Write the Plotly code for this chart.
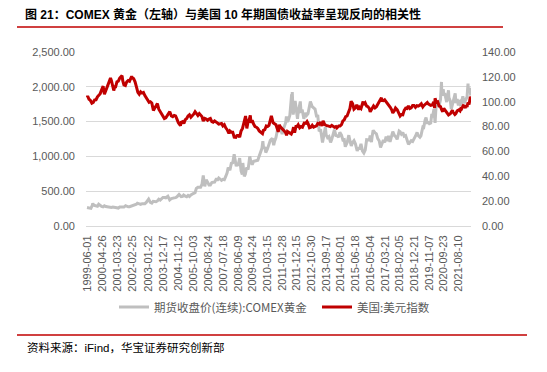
import plotly.graph_objects as go

# ---------------- data ----------------
tick_labels = ["1999-06-01", "2000-04-26", "2001-03-23", "2002-02-25", "2003-01-22",
               "2003-12-17", "2004-11-12", "2005-10-03", "2006-08-24", "2007-07-18",
               "2008-06-09", "2009-04-24", "2010-03-15", "2011-01-28", "2011-12-15",
               "2012-10-30", "2013-09-17", "2014-08-01", "2015-06-18", "2016-05-04",
               "2017-03-21", "2018-02-05", "2018-12-21", "2019-11-07", "2020-09-23",
               "2021-08-10"]

gold_dates = [
    "1999-06-01", "1999-07-15", "1999-08-25", "1999-09-27", "1999-10-05", "1999-10-25", "1999-11-15", "1999-12-15",
    "2000-01-15", "2000-02-10", "2000-03-15", "2000-04-15", "2000-05-15", "2000-06-15", "2000-07-15", "2000-08-15",
    "2000-09-15", "2000-10-15", "2000-11-15", "2000-12-15", "2001-01-15", "2001-02-15", "2001-03-15", "2001-04-15",
    "2001-05-15", "2001-06-15", "2001-07-15", "2001-08-15", "2001-09-20", "2001-10-15", "2001-11-15", "2001-12-15",
    "2002-01-15", "2002-02-15", "2002-03-15", "2002-04-15", "2002-05-15", "2002-06-05", "2002-07-15", "2002-08-15",
    "2002-09-15", "2002-10-15", "2002-11-15", "2002-12-15", "2003-02-05", "2003-03-15", "2003-04-15", "2003-05-15",
    "2003-06-15", "2003-07-15", "2003-08-15", "2003-09-15", "2003-10-15", "2003-11-15", "2003-12-15", "2004-01-15",
    "2004-02-15", "2004-03-31", "2004-05-10", "2004-06-15", "2004-07-15", "2004-08-15", "2004-09-15", "2004-10-15",
    "2004-11-30", "2004-12-15", "2005-01-15", "2005-02-15", "2005-03-10", "2005-04-15", "2005-05-15", "2005-06-15",
    "2005-07-15", "2005-08-15", "2005-09-15", "2005-10-15", "2005-11-15", "2005-12-12", "2006-01-15", "2006-02-15",
    "2006-03-15", "2006-04-15", "2006-05-12", "2006-06-14", "2006-07-15", "2006-08-15", "2006-09-15", "2006-10-15",
    "2006-11-15", "2006-12-15", "2007-01-15", "2007-02-26", "2007-03-15", "2007-04-15", "2007-05-15", "2007-06-15",
    "2007-07-15", "2007-08-15", "2007-09-15", "2007-10-15", "2007-11-08", "2007-12-15", "2008-01-15", "2008-02-15",
    "2008-03-17", "2008-04-15", "2008-05-01", "2008-05-15", "2008-06-15", "2008-07-15", "2008-08-15", "2008-09-10",
    "2008-09-22", "2008-10-24", "2008-11-15", "2008-12-15", "2009-01-15", "2009-02-20", "2009-03-15", "2009-04-15",
    "2009-05-15", "2009-06-15", "2009-07-15", "2009-08-15", "2009-09-15", "2009-10-15", "2009-11-15", "2009-12-03",
    "2009-12-20", "2010-01-15", "2010-02-05", "2010-03-15", "2010-04-15", "2010-05-15", "2010-06-28", "2010-07-28",
    "2010-08-15", "2010-09-15", "2010-10-15", "2010-11-10", "2010-12-07", "2011-01-28", "2011-02-15", "2011-03-15",
    "2011-04-15", "2011-05-01", "2011-05-15", "2011-06-15", "2011-07-15", "2011-08-23", "2011-08-26", "2011-09-06",
    "2011-09-26", "2011-10-15", "2011-11-08", "2011-12-29", "2012-01-15", "2012-02-28", "2012-03-15", "2012-04-15",
    "2012-05-16", "2012-06-15", "2012-07-15", "2012-08-15", "2012-09-15", "2012-10-05", "2012-11-15", "2012-12-15",
    "2013-01-15", "2013-02-20", "2013-03-15", "2013-04-15", "2013-05-15", "2013-06-27", "2013-07-15", "2013-08-28",
    "2013-09-15", "2013-10-15", "2013-11-15", "2013-12-20", "2014-01-15", "2014-02-15", "2014-03-14", "2014-04-15",
    "2014-05-15", "2014-06-15", "2014-07-10", "2014-08-15", "2014-09-15", "2014-10-15", "2014-11-06", "2014-12-15",
    "2015-01-22", "2015-02-15", "2015-03-17", "2015-04-15", "2015-05-15", "2015-06-15", "2015-07-24", "2015-08-15",
    "2015-09-15", "2015-10-15", "2015-11-15", "2015-12-17", "2016-01-15", "2016-02-15", "2016-03-15", "2016-04-15",
    "2016-05-02", "2016-05-30", "2016-06-15", "2016-07-06", "2016-08-15", "2016-09-15", "2016-10-15", "2016-11-15",
    "2016-12-15", "2017-01-15", "2017-02-15", "2017-03-15", "2017-04-15", "2017-05-09", "2017-06-06", "2017-07-10",
    "2017-08-15", "2017-09-08", "2017-10-15", "2017-11-15", "2017-12-12", "2018-01-25", "2018-02-15", "2018-03-15",
    "2018-04-15", "2018-05-15", "2018-06-15", "2018-07-15", "2018-08-16", "2018-09-15", "2018-10-15", "2018-11-15",
    "2018-12-15", "2019-01-15", "2019-02-20", "2019-03-15", "2019-04-23", "2019-05-15", "2019-06-25", "2019-07-15",
    "2019-08-15", "2019-09-04", "2019-10-01", "2019-10-15", "2019-11-15", "2019-12-15", "2020-01-08", "2020-01-20",
    "2020-02-24", "2020-03-19", "2020-04-14", "2020-05-15", "2020-06-15", "2020-07-15", "2020-08-06", "2020-08-12",
    "2020-09-15", "2020-09-24", "2020-10-15", "2020-11-27", "2020-12-15", "2021-01-06", "2021-01-15", "2021-02-15",
    "2021-03-08", "2021-04-15", "2021-05-15", "2021-06-01", "2021-06-18", "2021-07-15", "2021-08-09", "2021-08-20",
    "2021-09-15", "2021-09-29", "2021-10-15", "2021-11-15", "2021-12-15", "2022-01-15", "2022-02-15", "2022-03-08",
    "2022-03-15", "2022-04-18", "2022-05-05"]

gold_values = [
    265, 255, 253, 300, 326, 298, 292, 285,
    284, 312, 287, 280, 274, 290, 280, 276,
    272, 268, 267, 272, 266, 263, 260, 258,
    272, 270, 266, 272, 292, 281, 276, 277,
    284, 296, 293, 303, 312, 328, 315, 310,
    320, 315, 320, 338, 385, 338, 328, 355,
    355, 348, 360, 385, 373, 392, 410, 410,
    405, 427, 375, 393, 402, 404, 407, 420,
    453, 440, 422, 425, 445, 428, 420, 440,
    425, 445, 465, 470, 480, 540, 555, 555,
    555, 600, 725, 570, 665, 630, 590, 590,
    625, 628, 630, 685, 655, 690, 668, 655,
    670, 665, 712, 765, 840, 800, 900, 910,
    1030, 930, 860, 880, 880, 975, 790, 740,
    905, 715, 745, 840, 810, 1000, 925, 880,
    930, 935, 935, 945, 1005, 1055, 1120, 1220,
    1110, 1135, 1055, 1110, 1160, 1230, 1260, 1160,
    1215, 1270, 1370, 1420, 1425, 1320, 1375, 1420,
    1485, 1575, 1495, 1525, 1590, 1890, 1770, 1923,
    1600, 1680, 1795, 1540, 1640, 1790, 1645, 1650,
    1540, 1625, 1590, 1615, 1770, 1790, 1715, 1695,
    1680, 1565, 1595, 1360, 1390, 1200, 1285, 1420,
    1310, 1270, 1285, 1200, 1245, 1320, 1385, 1300,
    1295, 1275, 1345, 1305, 1235, 1240, 1140, 1195,
    1305, 1225, 1150, 1200, 1225, 1180, 1080, 1115,
    1115, 1180, 1080, 1050, 1090, 1240, 1235, 1235,
    1300, 1205, 1290, 1375, 1340, 1325, 1255, 1225,
    1130, 1195, 1235, 1200, 1285, 1220, 1295, 1210,
    1280, 1355, 1300, 1280, 1245, 1365, 1355, 1320,
    1345, 1290, 1300, 1240, 1175, 1200, 1225, 1215,
    1245, 1290, 1345, 1300, 1275, 1295, 1420, 1415,
    1525, 1560, 1470, 1495, 1470, 1480, 1610, 1560,
    1680, 1480, 1770, 1755, 1730, 1815, 2070, 1920,
    1965, 1870, 1910, 1780, 1855, 1950, 1845, 1795,
    1680, 1765, 1840, 1905, 1765, 1825, 1730, 1785,
    1795, 1725, 1770, 1865, 1765, 1820, 1855, 2045,
    1930, 1985, 1875]

usd_dates = [
    "1999-06-01", "1999-06-15", "1999-07-15", "1999-08-15", "1999-09-15", "1999-10-15", "1999-11-15", "1999-12-15",
    "2000-01-15", "2000-02-15", "2000-03-15", "2000-04-15", "2000-05-18", "2000-06-15", "2000-07-15", "2000-08-15",
    "2000-09-15", "2000-10-26", "2000-11-15", "2000-12-15", "2001-01-05", "2001-01-25", "2001-02-15", "2001-03-15",
    "2001-04-15", "2001-05-15", "2001-06-15", "2001-07-05", "2001-07-20", "2001-08-15", "2001-09-15", "2001-10-15",
    "2001-11-15", "2001-12-15", "2002-01-31", "2002-02-15", "2002-03-15", "2002-04-15", "2002-05-15", "2002-06-15",
    "2002-07-15", "2002-08-15", "2002-09-15", "2002-10-15", "2002-11-15", "2002-12-15", "2003-01-15", "2003-02-15",
    "2003-03-15", "2003-04-15", "2003-05-20", "2003-06-15", "2003-07-15", "2003-08-15", "2003-09-15", "2003-10-15",
    "2003-11-15", "2003-12-15", "2004-01-15", "2004-02-15", "2004-03-15", "2004-04-15", "2004-05-12", "2004-06-15",
    "2004-07-15", "2004-08-15", "2004-09-15", "2004-10-15", "2004-11-15", "2004-12-30", "2005-01-15", "2005-02-15",
    "2005-03-15", "2005-04-15", "2005-05-15", "2005-06-15", "2005-07-15", "2005-08-15", "2005-09-15", "2005-10-15",
    "2005-11-15", "2005-12-15", "2006-01-15", "2006-02-15", "2006-03-15", "2006-04-15", "2006-05-12", "2006-06-15",
    "2006-07-15", "2006-08-15", "2006-09-15", "2006-10-15", "2006-11-15", "2006-12-15", "2007-01-15", "2007-02-15",
    "2007-03-15", "2007-04-15", "2007-05-15", "2007-06-15", "2007-07-15", "2007-08-15", "2007-09-15", "2007-10-15",
    "2007-11-23", "2007-12-15", "2008-01-15", "2008-02-15", "2008-03-17", "2008-04-22", "2008-05-15", "2008-06-15",
    "2008-07-15", "2008-08-15", "2008-09-15", "2008-10-27", "2008-11-21", "2008-12-18", "2009-01-15", "2009-02-15",
    "2009-03-04", "2009-03-20", "2009-04-15", "2009-05-15", "2009-06-15", "2009-07-15", "2009-08-15", "2009-09-15",
    "2009-10-15", "2009-11-25", "2009-12-15", "2010-01-15", "2010-02-15", "2010-03-15", "2010-04-15", "2010-05-15",
    "2010-06-07", "2010-07-15", "2010-08-15", "2010-09-15", "2010-11-04", "2010-11-30", "2010-12-15", "2011-01-15",
    "2011-02-15", "2011-03-15", "2011-04-15", "2011-05-04", "2011-05-25", "2011-06-15", "2011-07-15", "2011-08-15",
    "2011-09-15", "2011-10-04", "2011-10-27", "2011-11-25", "2011-12-15", "2012-01-13", "2012-02-15", "2012-03-15",
    "2012-04-15", "2012-05-15", "2012-06-01", "2012-06-15", "2012-07-24", "2012-08-15", "2012-09-15", "2012-10-15",
    "2012-11-15", "2012-12-15", "2013-01-15", "2013-02-15", "2013-03-15", "2013-04-15", "2013-05-15", "2013-06-15",
    "2013-07-09", "2013-08-15", "2013-09-15", "2013-10-15", "2013-11-15", "2013-12-15", "2014-01-15", "2014-02-15",
    "2014-03-15", "2014-04-15", "2014-05-06", "2014-06-15", "2014-07-15", "2014-08-15", "2014-09-15", "2014-10-15",
    "2014-11-15", "2014-12-15", "2015-01-15", "2015-02-15", "2015-03-13", "2015-04-15", "2015-05-15", "2015-06-15",
    "2015-07-15", "2015-08-24", "2015-09-15", "2015-10-15", "2015-11-30", "2015-12-15", "2016-01-15", "2016-02-15",
    "2016-03-15", "2016-04-15", "2016-05-03", "2016-06-15", "2016-07-15", "2016-08-15", "2016-09-15", "2016-10-15",
    "2016-11-15", "2016-12-20", "2017-01-03", "2017-01-15", "2017-02-15", "2017-03-15", "2017-04-15", "2017-05-15",
    "2017-06-15", "2017-07-15", "2017-08-15", "2017-09-08", "2017-10-15", "2017-11-07", "2017-12-15", "2018-01-15",
    "2018-02-15", "2018-03-15", "2018-04-15", "2018-05-15", "2018-06-15", "2018-07-15", "2018-08-15", "2018-09-15",
    "2018-10-15", "2018-11-15", "2018-12-15", "2019-01-15", "2019-02-15", "2019-03-15", "2019-04-15", "2019-05-23",
    "2019-06-25", "2019-07-15", "2019-08-15", "2019-09-30", "2019-10-15", "2019-11-15", "2019-12-15", "2020-01-15",
    "2020-02-19", "2020-03-09", "2020-03-19", "2020-04-15", "2020-05-15", "2020-06-15", "2020-07-15", "2020-08-15",
    "2020-09-01", "2020-09-25", "2020-10-15", "2020-11-15", "2020-12-15", "2021-01-06", "2021-02-15", "2021-03-31",
    "2021-04-15", "2021-05-25", "2021-06-15", "2021-07-01", "2021-07-15", "2021-08-20", "2021-09-15", "2021-09-30",
    "2021-10-15", "2021-11-24", "2021-12-15", "2022-01-15", "2022-01-28", "2022-02-15", "2022-03-07", "2022-03-30",
    "2022-04-15", "2022-04-28", "2022-05-05"]

usd_values = [
    103.5, 104.5, 102, 101, 98.8, 99.5, 101.5, 101.6,
    104, 105.5, 106.5, 109.5, 112.5, 106, 109, 112,
    115.5, 119, 117, 111, 109, 112, 112, 116,
    116.5, 119, 120, 121, 117, 113.5, 113, 116,
    117, 116.5, 120.5, 119, 118.5, 116, 112, 107.5,
    106, 108, 107, 107.5, 105, 103, 101, 99.5,
    100, 99, 93, 95, 96.5, 98.5, 94, 92,
    91, 88, 86.5, 87, 89, 91, 92, 88.5,
    88, 89, 88.5, 86, 83, 80.8, 83.5, 84,
    82.5, 85.5, 86.5, 88.5, 89.5, 87.5, 88.5, 90,
    92, 90, 89, 90.5, 89.5, 88, 84.5, 86.5,
    86, 85, 86, 86.5, 84, 83.5, 84.5, 84,
    83, 82, 82, 82.5, 80.5, 81.5, 79, 77.5,
    74.5, 76.5, 75.5, 75.5, 71.5, 71.3, 72.8, 73,
    71.5, 76.5, 78.5, 86.5, 88.5, 78.5, 84, 86.5,
    89, 83, 85, 82, 80, 79.5, 78.5, 76.5,
    75.5, 74.3, 77, 77.5, 80.5, 80, 81, 85.5,
    88.7, 83, 82, 81.5, 75.7, 81.4, 80, 79,
    78, 76.5, 75, 72.9, 76, 75.5, 75, 74,
    76.5, 79.5, 75, 80, 80, 81.5, 79, 80,
    79.5, 81.5, 83.5, 82, 84, 82.5, 79, 79.5,
    81, 79.5, 80, 80.5, 82.5, 82, 83.5, 80.5,
    84.7, 81.5, 81, 80.5, 80.5, 80, 81, 80.5,
    79.5, 80, 78.9, 80.5, 80.5, 81.5, 84.5, 85.5,
    88, 88.5, 92.5, 94.5, 100.3, 98.5, 94, 95,
    97.5, 93.5, 95.5, 94.5, 100.2, 97.5, 99, 96.5,
    96, 94.5, 91.9, 94.5, 96.5, 95, 96, 98,
    100, 103.3, 103.2, 101, 100.8, 101.5, 100.2, 98.5,
    97, 95.5, 93.5, 91, 93, 95, 93.5, 90.5,
    88.5, 89.7, 89.5, 93, 94.8, 94.5, 96.5, 94.5,
    95, 97, 97, 95.5, 96.8, 96.5, 97, 98.3,
    95.8, 96.8, 98, 99.4, 98.5, 98, 97, 97.3,
    99.8, 94.9, 102.8, 99.5, 100, 96.5, 96, 93,
    92.1, 94.6, 93.5, 92.5, 90.5, 89.4, 90.4, 93.2,
    91.7, 89.7, 90.5, 92.6, 92.7, 93.5, 92.6, 94.3,
    94, 96.8, 96.5, 95, 97.3, 95.9, 99.3, 97.8,
    100.5, 103.9, 103.5]

gold_name = "期货收盘价(连续):COMEX黄金"
usd_name = "美国:美元指数"
title_text = "图 21：COMEX 黄金（左轴）与美国 10 年期国债收益率呈现反向的相关性"
source_text = "资料来源：iFind，华宝证券研究创新部"

# ---------------- layout helpers (target pixel -> paper) ----------------
W, H = 547, 372
OFF = 8  # page body margin offset compensation
PL, PR, PT, PB = 86 - OFF, 471 - OFF, 52 - OFF, 226 - OFF


def px_x(x):
    return (x - OFF - PL) / (PR - PL)


def px_y(y):
    return (PB - (y - OFF)) / (PB - PT)


fig = go.Figure()
fig.add_trace(go.Scatter(x=gold_dates, y=gold_values, name=gold_name, mode="lines",
                         line=dict(color="#BFBFBF", width=3), yaxis="y", legend="legend"))
fig.add_trace(go.Scatter(x=usd_dates, y=usd_values, name=usd_name, mode="lines",
                         line=dict(color="#C00000", width=3), yaxis="y2", legend="legend2"))

axis_font = dict(family="Liberation Sans, Arial, sans-serif", size=11, color="#595959")
legend_font = dict(family="Noto Sans CJK SC, sans-serif", size=11.5, color="#595959")

fig.update_layout(
    width=W, height=H,
    margin=dict(l=PL, r=W - PR, t=PT, b=H - PB, pad=0, autoexpand=False),
    paper_bgcolor="white", plot_bgcolor="white",
    font=dict(family="Liberation Sans, Noto Sans CJK SC, sans-serif", size=11, color="#595959"),
    showlegend=True,
    legend=dict(orientation="h", x=px_x(114), xanchor="left", y=px_y(307), yanchor="middle",
                font=legend_font, bgcolor="rgba(0,0,0,0)"),
    legend2=dict(orientation="h", x=px_x(317), xanchor="left", y=px_y(307), yanchor="middle",
                 font=legend_font, bgcolor="rgba(0,0,0,0)"),
    xaxis=dict(type="date", range=["1999-05-10", "2022-05-12"],
               tickmode="array", tickvals=tick_labels, ticktext=tick_labels,
               tickangle=-90, tickfont=axis_font, showgrid=False, zeroline=False,
               showline=True, linecolor="#D9D9D9", linewidth=1, ticks="", ticklabelstandoff=4,
               automargin=False),
    yaxis=dict(range=[0, 2500], dtick=500, tickformat=",.2f", tickfont=axis_font,
               showgrid=True, gridcolor="#D9D9D9", gridwidth=1, zeroline=False,
               showline=False, ticks="", ticklabelstandoff=10, automargin=False),
    yaxis2=dict(range=[0, 140], dtick=20, tickformat=".2f", tickfont=axis_font,
                overlaying="y", side="right", showgrid=False, zeroline=False,
                showline=False, ticks="", ticklabelstandoff=10, automargin=False),
    title=dict(text="<b>" + title_text + "</b>", x=(25 - OFF) / W, xanchor="left", xref="container",
               y=1 - (15 - OFF) / H, yanchor="middle", yref="container",
               font=dict(family="Liberation Sans, Noto Sans CJK SC, sans-serif", size=12, color="#000000")),
)

# decorative rules (title underline and source line)
fig.add_shape(type="line", xref="paper", yref="paper", x0=px_x(17), x1=px_x(503),
              y0=px_y(27), y1=px_y(27), line=dict(color="#C00000", width=1.5))
fig.add_shape(type="line", xref="paper", yref="paper", x0=px_x(17), x1=px_x(527),
              y0=px_y(335), y1=px_y(335), line=dict(color="#C00000", width=1.5))

fig.add_annotation(text=source_text, xref="paper", yref="paper", x=px_x(25), y=px_y(347),
                   xanchor="left", yanchor="middle", showarrow=False,
                   font=dict(family="Liberation Sans, Noto Sans CJK SC, sans-serif", size=11.5, color="#000000"))

fig.write_html("out.html")
